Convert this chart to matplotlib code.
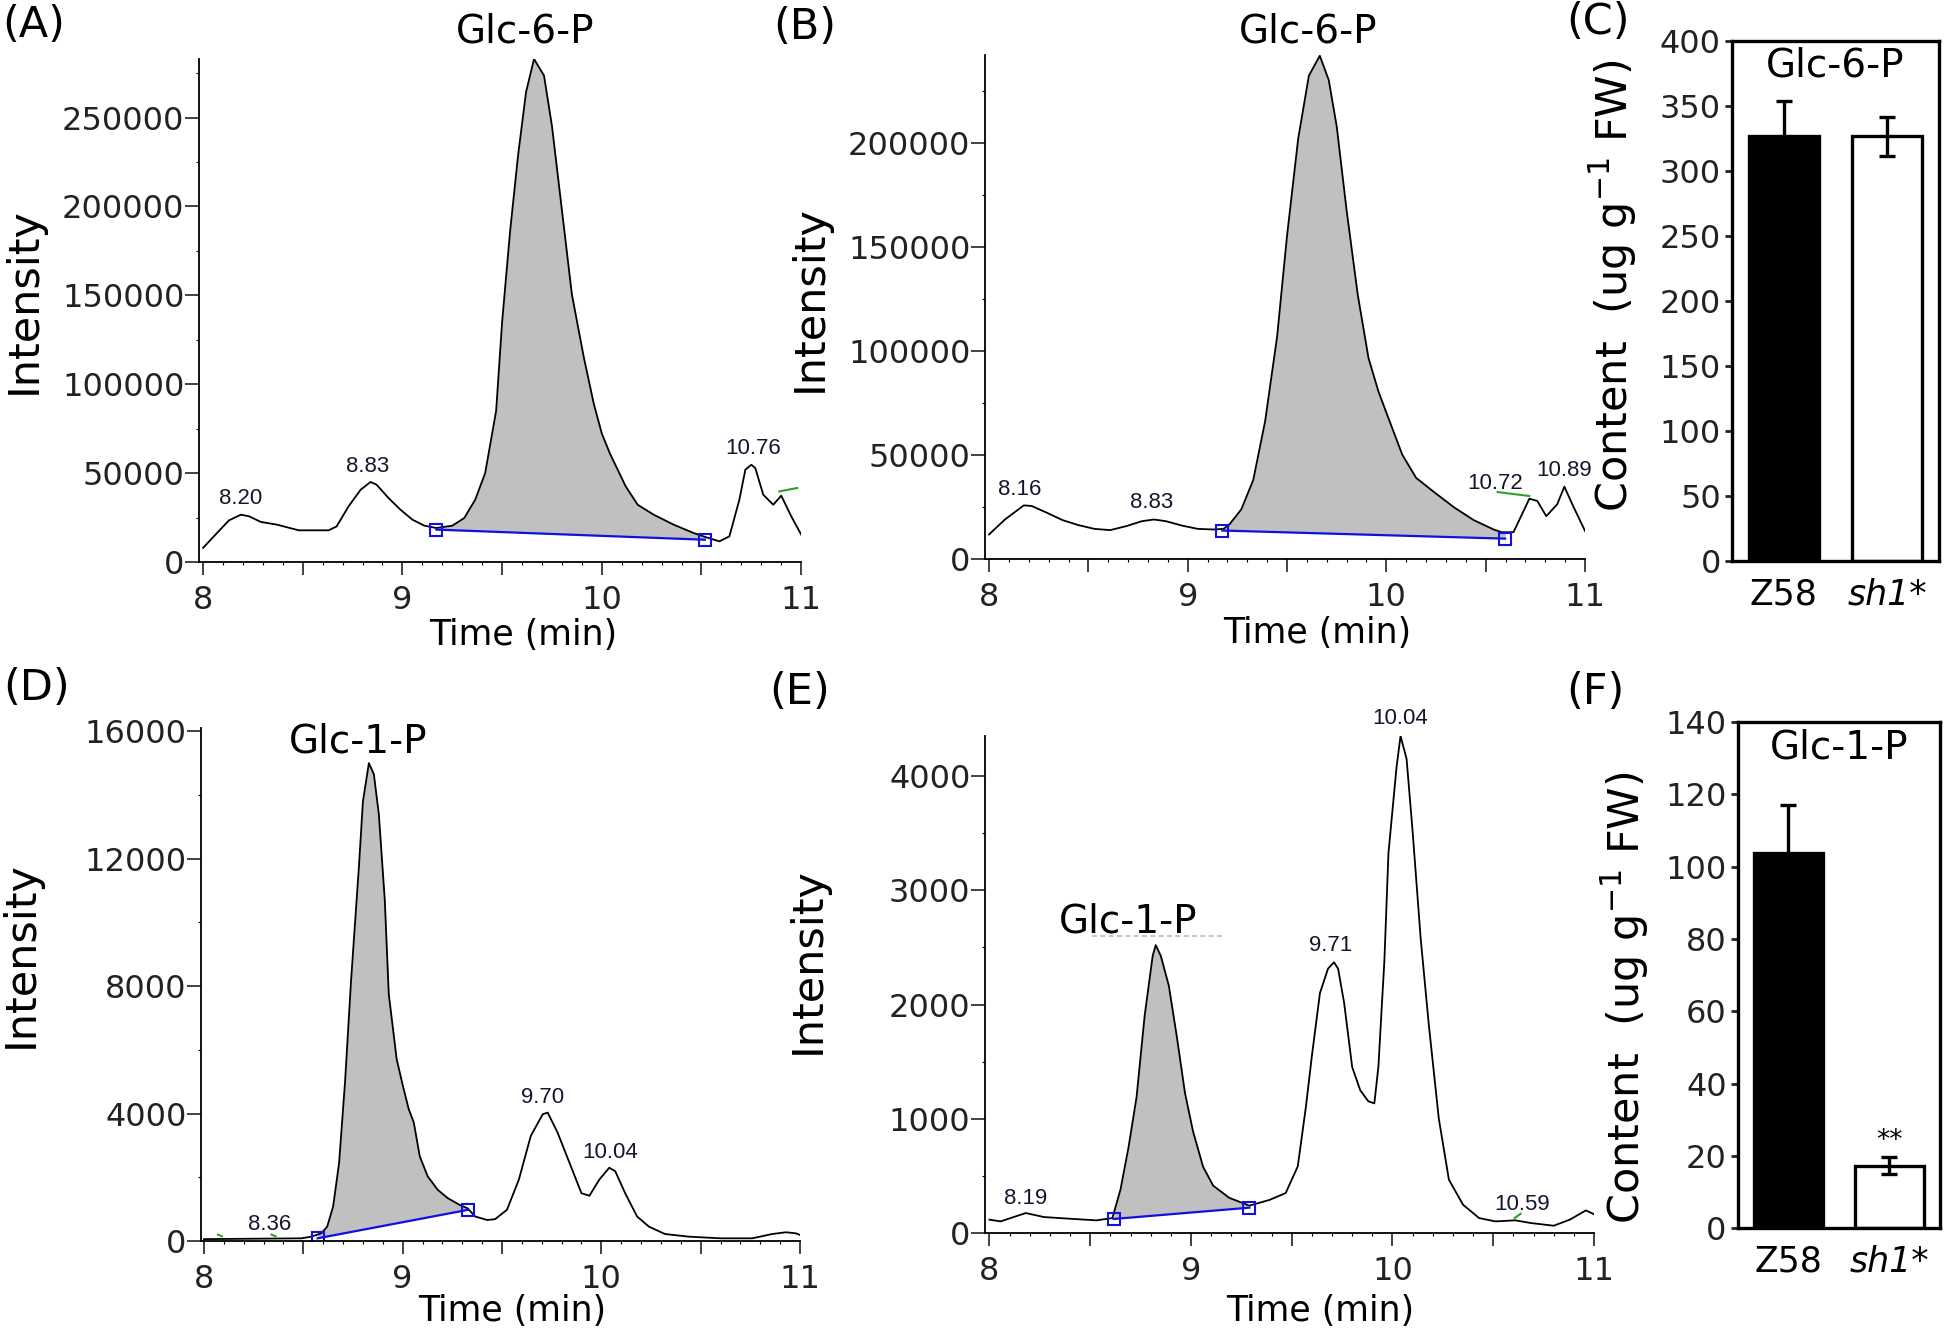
import matplotlib
matplotlib.use('Agg')
import matplotlib.pyplot as plt
from matplotlib.ticker import MultipleLocator
import numpy as np

plt.rcParams['font.family'] = ['DejaVu Sans']

# ---------------- chromatogram data ----------------
# (A) Z58, Glc-6-P
a_t = [8.00, 8.07, 8.13, 8.19, 8.23, 8.29, 8.37, 8.48, 8.63, 8.67, 8.73, 8.79, 8.84, 8.87,
       8.93, 8.99, 9.05, 9.11, 9.17, 9.25, 9.31, 9.365, 9.415, 9.47, 9.50, 9.54, 9.58, 9.62,
       9.66, 9.71, 9.75, 9.80, 9.85, 9.91, 9.96, 10.00, 10.04, 10.12, 10.18, 10.26, 10.36,
       10.46, 10.52, 10.59, 10.64, 10.69, 10.72, 10.75, 10.77, 10.81, 10.86, 10.90, 10.95, 11.00]
a_i = [7900, 16300, 23400, 26600, 25700, 22500, 21000, 17800, 17800, 20000, 31300, 40600,
       45000, 43500, 36000, 29400, 23800, 20400, 19100, 20400, 24700, 35000, 50000, 85000,
       135000, 186000, 228700, 264300, 283000, 273700, 245300, 197900, 150500, 115000, 88900,
       72300, 61200, 42500, 32200, 26600, 21000, 16300, 14000, 11600, 14400, 35000, 51900,
       54700, 52800, 37800, 32200, 37300, 25700, 15400]
a_base_t = [9.17, 10.517]
a_base_i = [18200, 12500]
a_peaks = [('8.20', 8.19, 35600), ('8.83', 8.823, 53750), ('10.76', 10.76, 63700)]
a_green = ([10.89, 10.98], [39700, 41600])

# (B) sh1*, Glc-6-P
b_t = [8.00, 8.08, 8.175, 8.215, 8.29, 8.37, 8.45, 8.53, 8.61, 8.69, 8.77, 8.83, 8.89, 8.97,
       9.05, 9.13, 9.18, 9.21, 9.27, 9.33, 9.39, 9.45, 9.50, 9.556, 9.61, 9.665, 9.71, 9.75,
       9.80, 9.856, 9.91, 9.96, 10.00, 10.08, 10.15, 10.244, 10.343, 10.44, 10.54, 10.58,
       10.64, 10.72, 10.76, 10.805, 10.86, 10.896, 10.94, 11.00]
b_i = [11800, 19000, 25800, 25500, 22300, 18700, 16300, 14500, 13900, 15800, 18200, 19000,
       18200, 16100, 14500, 14200, 14500, 16600, 23900, 38000, 66400, 106900, 155400, 202000,
       232400, 242000, 230300, 208100, 167600, 127100, 96700, 80600, 70400, 50200, 39000,
       31900, 24700, 18700, 14200, 12900, 12900, 29000, 27900, 20600, 26300, 34800, 25500, 13500]
b_base_t = [9.174, 10.598]
b_base_i = [13700, 9800]
b_peaks = [('8.16', 8.155, 33550), ('8.83', 8.82, 27100), ('10.72', 10.55, 36500),
           ('10.89', 10.896, 42400)]
b_green = ([10.56, 10.72], [32200, 30300])

# (D) Z58, Glc-1-P
d_t = [8.00, 8.20, 8.40, 8.49, 8.54, 8.59, 8.62, 8.65, 8.68, 8.71, 8.74, 8.78, 8.80, 8.83,
       8.855, 8.88, 8.91, 8.93, 8.97, 9.00, 9.03, 9.056, 9.086, 9.126, 9.176, 9.226, 9.286,
       9.326, 9.365, 9.425, 9.465, 9.525, 9.585, 9.645, 9.705, 9.73, 9.78, 9.84, 9.90, 9.94,
       9.99, 10.04, 10.07, 10.12, 10.18, 10.24, 10.32, 10.44, 10.60, 10.76, 10.86, 10.93,
       10.98, 11.00]
d_i = [60, 70, 80, 85, 137, 240, 450, 1085, 2450, 5000, 8150, 11770, 13800, 15000, 14650,
       13400, 10700, 7750, 5700, 4900, 4150, 3720, 2660, 2030, 1610, 1350, 1137, 1030, 770,
       660, 685, 980, 1930, 3300, 3980, 4030, 3400, 2450, 1500, 1420, 1930, 2300, 2190, 1500,
       770, 450, 220, 137, 85, 85, 220, 275, 240, 190]
d_base_t = [8.572, 9.33]
d_base_i = [85, 980]
d_peaks = [('8.36', 8.33, 505), ('9.70', 9.704, 4507), ('10.04', 10.043, 2770)]
d_green = [([8.07, 8.09], [200, 150]), ([8.34, 8.36], [200, 150])]

# (E) sh1*, Glc-1-P
e_t = [8.00, 8.055, 8.18, 8.27, 8.40, 8.53, 8.61, 8.65, 8.69, 8.73, 8.77, 8.81, 8.825, 8.85,
       8.89, 8.93, 8.97, 9.01, 9.06, 9.11, 9.19, 9.29, 9.39, 9.47, 9.53, 9.57, 9.60, 9.64,
       9.68, 9.71, 9.73, 9.76, 9.80, 9.84, 9.88, 9.91, 9.93, 9.96, 9.98, 10.02, 10.04, 10.07,
       10.10, 10.14, 10.18, 10.23, 10.28, 10.35, 10.43, 10.51, 10.61, 10.685, 10.80, 10.88,
       10.96, 11.00]
e_i = [117, 102, 175, 140, 125, 111, 131, 380, 750, 1191, 1902, 2427, 2520, 2427, 2165,
       1715, 1228, 891, 580, 415, 308, 240, 290, 350, 584, 1100, 1550, 2100, 2314, 2370, 2314,
       2015, 1453, 1250, 1153, 1135, 1453, 2390, 3325, 4075, 4350, 4150, 3513, 2577, 1828,
       1000, 467, 248, 131, 102, 111, 88, 64, 117, 198, 165]
e_base_t = [8.616, 9.29]
e_base_i = [123, 222]
e_peaks = [('8.19', 8.18, 306), ('9.71', 9.694, 2520), ('10.04', 10.037, 4505),
           ('10.59', 10.645, 250)]
e_green = [([10.606, 10.636], [131, 169])]

# ---------------- bar data ----------------
genotypes = ['Z58', 'sh1*']
g6p_content = [327, 327]
g6p_err = [27, 15]
g1p_content = [103.7, 17.3]
g1p_err = [13.2, 2.4]

fig = plt.figure(figsize=(19.46, 13.31), dpi=100)

TICK = 23
PEAKFONT = ['Liberation Sans Narrow', 'Liberation Sans', 'DejaVu Sans']


def chrom(rect, t, y, xlim, ylim, ystep, base_t, base_i, peaks, greens):
    ax = fig.add_axes(rect)
    t = np.array(t)
    y = np.array(y)
    m = (t > base_t[0]) & (t < base_t[1])
    ft = np.concatenate([[base_t[0]], t[m], [base_t[1]]])
    fy = np.concatenate([[np.interp(base_t[0], t, y)], y[m], [np.interp(base_t[1], t, y)]])
    ax.fill_between(ft, fy, np.interp(ft, base_t, base_i), color='#c0c0c0', lw=0)
    ax.plot(t, y, color='black', lw=1.3)
    ax.plot(base_t, base_i, color='#1010e0', lw=1.6, marker='s', ms=9,
            mfc='none', mec='#1010e0', mew=1.5)
    for gx, gy in greens:
        ax.plot(gx, gy, color='#2ca02c', lw=1.5)
    for lab, px, py in peaks:
        ax.text(px, py, lab, ha='center', va='center', fontsize=16,
                family=PEAKFONT, color='#15152e')
    ax.set_xlim(*xlim)
    ax.set_ylim(*ylim)
    ax.set_xticks([8, 8.5, 9, 9.5, 10, 10.5, 11])
    ax.set_xticklabels(['8', '', '9', '', '10', '', '11'])
    ax.xaxis.set_minor_locator(MultipleLocator(0.1))
    ax.yaxis.set_major_locator(MultipleLocator(ystep))
    ax.yaxis.set_minor_locator(MultipleLocator(ystep / 2))
    ax.tick_params(axis='x', which='major', length=9.5, width=1.2, pad=7, labelsize=TICK,
                   colors='#222222')
    ax.tick_params(axis='y', which='major', length=10, width=1.2, pad=0.5, labelsize=TICK,
                   colors='#222222')
    ax.tick_params(which='minor', length=2.5, width=0.8)
    for s in ['top', 'right']:
        ax.spines[s].set_visible(False)
    for s in ['left', 'bottom']:
        ax.spines[s].set_linewidth(1.3)
    return ax


def bars(rect, vals, errs, ylim, ystep, title, title_y):
    ax = fig.add_axes(rect)
    x = np.arange(len(genotypes))
    ax.bar(x, vals, width=0.68, color=['black', 'white'], edgecolor='black', linewidth=2.4,
           yerr=errs, error_kw=dict(ecolor='black', elinewidth=2.4, capsize=6, capthick=2.4))
    ax.set_xlim(-0.5, 1.5)
    ax.set_ylim(*ylim)
    ax.yaxis.set_major_locator(MultipleLocator(ystep))
    ax.set_xticks(x)
    ax.set_xticklabels(genotypes)
    ax.get_xticklabels()[1].set_style('italic')
    ax.tick_params(axis='x', length=0, pad=12, labelsize=25)
    ax.tick_params(axis='y', length=5, width=2, pad=3, labelsize=TICK, colors='#222222')
    for s in ax.spines.values():
        s.set_linewidth(2.4)
    ax.text(0.5, title_y, title, transform=ax.transAxes, ha='center', va='center',
            fontsize=28)
    return ax


axA = chrom([0.1023, 0.5778, 0.3094, 0.3779], a_t, a_i, (7.98, 11.0), (0, 283000), 50000,
            a_base_t, a_base_i, a_peaks, [a_green])
axA.text(9.618, 298600, 'Glc-6-P', ha='center', va='center', fontsize=28)

axB = chrom([0.5062, 0.5800, 0.3083, 0.3789], b_t, b_i, (7.98, 11.0), (0, 242500), 50000,
            b_base_t, b_base_i, b_peaks, [b_green])
axB.text(9.608, 253600, 'Glc-6-P', ha='center', va='center', fontsize=28)

axD = chrom([0.1033, 0.0676, 0.3078, 0.3854], d_t, d_i, (7.985, 11.0), (0, 16100), 4000,
            d_base_t, d_base_i, d_peaks, d_green)
axD.text(8.776, 15665, 'Glc-1-P', ha='center', va='center', fontsize=28)

axE = chrom([0.5062, 0.0736, 0.3129, 0.3734], e_t, e_i, (7.978, 11.0), (0, 4350), 1000,
            e_base_t, e_base_i, e_peaks, e_green)
axE.text(8.687, 2731, 'Glc-1-P', ha='center', va='center', fontsize=28)
axE.plot([8.51, 9.16], [2600, 2600], color='#bbbbbb', lw=1.2, ls=(0, (3, 2)))

bars([0.8900, 0.5788, 0.1064, 0.3902], g6p_content, g6p_err, (0, 400), 50, 'Glc-6-P', 0.954)
axF = bars([0.8930, 0.0772, 0.1038, 0.3804], g1p_content, g1p_err, (0, 140), 20,
           'Glc-1-P', 0.949)
axF.text(1, 24, '**', ha='center', va='center', fontsize=19)

# axis titles
for x, y in [(0.01208, 0.7739), (0.4161, 0.7754), (0.0108, 0.2825), (0.4152, 0.2787)]:
    fig.text(x, y, 'Intensity', rotation=90, ha='center', va='center', fontsize=31)
for x, y in [(0.2688, 0.5229), (0.6768, 0.5244), (0.2634, 0.0150), (0.6783, 0.0150)]:
    fig.text(x, y, 'Time (min)', ha='center', va='center', fontsize=25)
for x, y in [(0.8289, 0.7851), (0.8350, 0.2502)]:
    fig.text(x, y, r'Content  (ug g$^{\mathregular{-1}}$ FW)', rotation=90, ha='center',
             va='center', fontsize=31)

# panel letters
for lab, x, y in [('(A)', 0.01747, 0.9812), ('(B)', 0.4134, 0.9797), ('(C)', 0.8212, 0.9835),
                  ('(D)', 0.0188, 0.4831), ('(E)', 0.4111, 0.4801), ('(F)', 0.8196, 0.4801)]:
    fig.text(x, y, lab, ha='center', va='center', fontsize=31)

fig.savefig('out.png', dpi=100)
